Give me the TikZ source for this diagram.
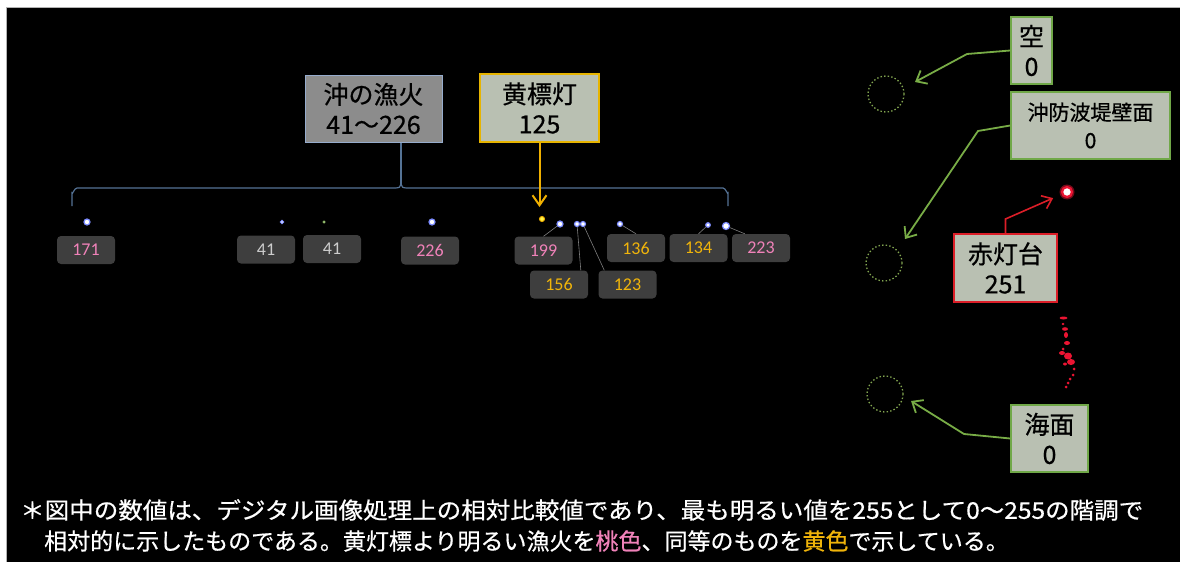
\documentclass[tikz,border=0pt]{standalone}
\usepackage{fontspec}
\setmainfont{Noto Sans CJK JP}[FakeBold=0.6]
\newfontfamily\numfont{Carlito}
\usetikzlibrary{arrows.meta,calc}
\definecolor{okifill}{RGB}{140,140,140}
\definecolor{okiborder}{RGB}{150,172,205}
\definecolor{boxfill}{RGB}{185,192,178}
\definecolor{goldborder}{RGB}{230,180,0}
\definecolor{greenborder}{RGB}{112,168,72}
\definecolor{redborder}{RGB}{220,30,40}
\definecolor{labelgray}{RGB}{62,62,62}
\definecolor{pinktext}{RGB}{240,130,185}
\definecolor{yellowtext}{RGB}{240,180,10}
\definecolor{graytext}{RGB}{205,205,205}
\definecolor{bracecol}{RGB}{85,115,150}
\definecolor{greenline}{RGB}{120,172,70}
\definecolor{circlecol}{RGB}{130,165,80}
\definecolor{leadercol}{RGB}{125,125,125}
\definecolor{dotblue}{RGB}{125,140,255}
\definecolor{orangeline}{RGB}{240,176,0}
\definecolor{redlight}{RGB}{235,20,50}
\begin{document}
\begin{tikzpicture}[x=1pt,y=-1pt,
  bigbox/.style={draw, line width=1.6pt, fill=boxfill, inner sep=0pt, align=center, text=black,
    font=\fontsize{25}{30}\selectfont},
  numlabel/.style={rounded corners=4pt, fill=labelgray, minimum width=58pt, minimum height=28pt,
    inner sep=0pt, font=\numfont\fontsize{18}{20}\selectfont},
  lightdot/.style={circle, fill=white, inner sep=0pt, minimum size=#1, draw=dotblue, line width=1.2pt},
  leader/.style={draw=leadercol, line width=0.6pt},
  garrow/.style={draw=greenline, line width=1.8pt, -{Straight Barb[length=9pt,width=15pt]}},
  dcircle/.style={draw=circlecol, line width=1.3pt, dash pattern=on 1.4pt off 2.2pt}
]
\useasboundingbox (0,0) rectangle (1180,562);
\fill[white] (0,0) rectangle (1180,562);
\fill[black] (6,7) rectangle (1180,562);
\draw[gray!60, line width=1pt] (6,562) -- (6,7) -- (1180,7);

% top boxes
\node[bigbox, fill=okifill, draw=okiborder, line width=1pt, minimum width=137pt, minimum height=67pt]
  (oki) at (373.5,108.5) {沖の漁火\\41～226};
\node[bigbox, draw=goldborder, minimum width=119pt, minimum height=68pt]
  (yel) at (539.5,108) {黄標灯\\125};

% brace
\coordinate (bmid) at (401,184);
\draw[draw=bracecol, line width=1.2pt]
  (72,206) -- (72,193) to[out=-90,in=180] (77,188) -- (395,188)
  .. controls (399,188) and (401,187) .. (bmid)
  .. controls (401,187) and (403,188) .. (407,188) -- (723,188)
  to[out=0,in=-90] (728,193) -- (728,206);
\draw[draw=bracecol, line width=1.2pt] (oki.south -| bmid) -- (bmid);

% lights
\node[lightdot=6pt] (d171) at (87,222) {};
\node[lightdot=3.5pt, line width=0.8pt] (d41a) at (282,222) {};
\node[lightdot=2.5pt, line width=0.5pt, draw=greenline] (d41b) at (324,222) {};
\node[lightdot=6pt] (d226) at (432,222) {};
\node[circle, fill=yellow!70!white, draw=orangeline, line width=1pt, inner sep=0pt, minimum size=5pt] (dyel) at (542,219) {};
\node[lightdot=6pt] (d199) at (560,224) {};
\node[lightdot=5pt] (d156) at (577,224) {};
\node[lightdot=5pt] (d123) at (583,224) {};
\node[lightdot=5pt] (d136) at (620,224) {};
\node[lightdot=4.5pt] (d134) at (708,225) {};
\node[lightdot=7pt] (d223) at (726,226) {};

% value labels
\node[numlabel, text=pinktext] (l171) at (86,250) {171};
\node[numlabel, text=graytext] (l41a) at (266,249.5) {41};
\node[numlabel, text=graytext] (l41b) at (332,249) {41};
\node[numlabel, text=pinktext] (l226) at (430,250.5) {226};
\node[numlabel, text=pinktext] (l199) at (543.5,250.5) {199};
\node[numlabel, text=yellowtext] (l156) at (559,284.5) {156};
\node[numlabel, text=yellowtext] (l123) at (627.5,284.5) {123};
\node[numlabel, text=yellowtext] (l136) at (636,248) {136};
\node[numlabel, text=yellowtext] (l134) at (698.5,248) {134};
\node[numlabel, text=pinktext] (l223) at (761,248) {223};

% leader lines
\draw[leader] (d199) -- (l199.north);
\draw[leader] (d156) -- ($(l156.north west)+(51,0)$);
\draw[leader] (d123) -- ($(l123.north west)+(6,0)$);
\draw[leader] (d136) -- (l136.north);
\draw[leader] (d134) -- (l134.north);
\draw[leader] (d223) -- ($(l223.north west)+(13,0)$);

% yellow marker arrow
\draw[draw=orangeline, line width=2pt, -{Straight Barb[length=10pt,width=14pt]}, shorten >=9pt]
  (yel.south) -- (yel.south |- dyel.north);

% right side circles
\draw[dcircle] (886,94) circle (18);
\draw[dcircle] (884,263) circle (18);
\draw[dcircle] (885,394) circle (18);
\coordinate (a1) at (915,82);
\coordinate (a2) at (905,239);
\coordinate (a3) at (911,401);

% right side boxes
\node[bigbox, draw=greenborder, minimum width=41pt, minimum height=67pt]
  (kong) at (1031.5,50.5) {空\\0};
\node[bigbox, draw=greenborder, minimum width=159pt, minimum height=67pt,
  font=\fontsize{21}{28}\selectfont]
  (bohatei) at (1090.5,125.5) {沖防波堤壁面\\0};
\node[bigbox, draw=redborder, minimum width=103pt, minimum height=68pt]
  (akato) at (1005.5,268) {赤灯台\\251};
\node[bigbox, draw=greenborder, minimum width=77pt, minimum height=67pt]
  (kaimen) at (1049.5,438.5) {海面\\0};

\draw[garrow] (kong.west) -- (967,54) -- (a1);
\draw[garrow] (bohatei.west) -- (978,131) -- (a2);
\draw[garrow] (kaimen.west) -- (964,434) -- (a3);

% red light
\fill[redlight, opacity=0.5] (1067,192) circle (7.5);
\node[circle, fill=white, draw=redlight, line width=2.2pt, inner sep=0pt, minimum size=10pt] (rl) at (1067,192) {};
\draw[draw=redborder, line width=1.6pt, -{Straight Barb[length=9pt,width=14pt]}, shorten >=9pt]
  (akato.north) -- (akato.north |- 0,219) -- (rl);

% red reflection
\begin{scope}[redlight]
\fill (1063.5,318) ellipse (4 and 1.5);
\fill (1063,324) ellipse (1.5 and 1.2);
\fill (1065,329) ellipse (3 and 1.8);
\fill (1066,335) ellipse (2 and 3);
\fill (1067,343) ellipse (3 and 2);
\fill (1063,349) ellipse (1.5 and 1.5);
\fill (1062,353) ellipse (3 and 2);
\fill (1068,356) ellipse (4 and 3.5);
\fill (1071,362) ellipse (4 and 3);
\fill (1065,364) ellipse (2 and 1.5);
\fill (1074,369) ellipse (1.5 and 1.5);
\fill (1073,375) ellipse (1.5 and 1.5);
\fill (1070,379) ellipse (1.5 and 1.5);
\fill (1068,383) ellipse (1.5 and 1.5);
\fill (1066,387) ellipse (1.5 and 1.5);
\end{scope}

% footnote
\node[anchor=west, inner sep=0pt, text=white, font=\fontsize{23}{23}\selectfont] (note1) at (20,510)
  {\resizebox{1123pt}{\height}{＊図中の数値は、デジタル画像処理上の相対比較値であり、最も明るい値を255として0～255の階調で}};
\node[anchor=west, inner sep=0pt, text=white, font=\fontsize{23}{23}\selectfont] (note2) at (44,541)
  {相対的に示したものである。黄灯標より明るい漁火を\textcolor{pinktext}{桃色}、同等のものを\textcolor{yellowtext}{黄色}で示している。};
\end{tikzpicture}
\end{document}
